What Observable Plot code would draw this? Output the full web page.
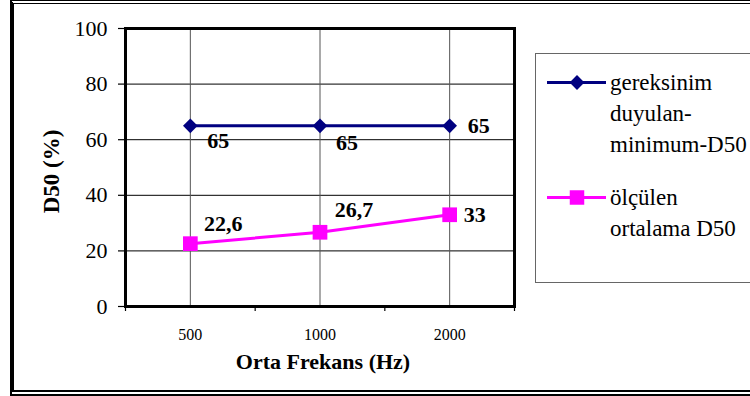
<!DOCTYPE html>
<html>
<head>
<meta charset="utf-8">
<script src="https://cdn.jsdelivr.net/npm/d3@7"></script>
<script src="https://cdn.jsdelivr.net/npm/@observablehq/plot@0.6"></script>
<style>
  html, body { margin: 0; padding: 0; background: #fff; }
  #wrap { position: relative; width: 750px; height: 396px; overflow: hidden; background: #fff;
          font-family: "Liberation Serif", "Times New Roman", serif; }
  #chart { position: absolute; left: 0; top: 0; }
  #outer { position: absolute; left: 10px; top: 0; width: 760px; height: 396px; box-sizing: border-box;
           border-left: 4px solid #000; border-top: 4px double #000; border-bottom: 6px double #000; pointer-events: none; }
  #legend { position: absolute; left: 535px; top: 53px; width: 230px; height: 230px; box-sizing: border-box;
            border: 1px solid #666; background: #fff; }
  .item { position: absolute; left: 0; }
  .item svg { position: absolute; left: 11px; }
  .item .lbl { position: absolute; left: 74px; font-family: "Liberation Serif", serif; font-size: 23px; line-height: 31px; white-space: nowrap; color: #000; }
  g[aria-label="y-title"] text { letter-spacing: 2px; }
</style>
</head>
<body>
<div id="wrap">
  <div id="chart"></div>
  <div id="legend"></div>
  <div id="outer"></div>
</div>
<script>
// ---- data ----
const categories = ["500", "1000", "2000"];
const requiredD50 = [65, 65, 65];
const measuredD50 = [22.6, 26.7, 33];
const yTicks = [0, 20, 40, 60, 80, 100];
const seriesNames = [["gereksinim", "duyulan-", "minimum-D50"], ["ölçülen", "ortalama D50"]];
const seriesColors = ["#000080", "#FF00FF"];
const xTitle = "Orta Frekans (Hz)";
const yTitle = "D50 (%)";

const data = categories.map((c, i) => ({ i, cat: c, x: i + 0.5, required: requiredD50[i], measured: measuredD50[i] }));
const fmt = v => String(v).replace(".", ",");

const labelStyle = { fontSize: 22, fontWeight: "bold", fill: "#000" };
const lbl = (i, key, dx, dy) => Plot.text(data, {
  filter: d => d.i === i, x: "x", y: key, text: d => fmt(d[key]), dx, dy, ...labelStyle
});

const chart = Plot.plot({
  width: 750, height: 396,
  marginLeft: 125, marginRight: 236, marginTop: 28, marginBottom: 90,
  style: { fontFamily: "'Liberation Serif', 'Times New Roman', serif", color: "#000", background: "transparent", overflow: "visible" },
  x: { type: "linear", domain: [0, categories.length] },
  y: { domain: [0, 100] },
  marks: [
    Plot.gridY(yTicks.slice(1, -1), { stroke: "#000", strokeOpacity: 1, strokeWidth: 1 }),
    Plot.gridX(categories.map((c, i) => i + 0.5), { stroke: "#555", strokeOpacity: 1, strokeWidth: 1 }),
    Plot.axisY(yTicks, { tickSize: 7, tickPadding: 11, fontSize: 22, label: null, strokeWidth: 1.2 }),
    Plot.axisX(d3.range(categories.length + 1), { tickSize: 5, tickFormat: () => "", label: null, strokeWidth: 1.2 }),
    Plot.axisX(categories.map((c, i) => i + 0.5), { tickSize: 0, tickPadding: 22, fontSize: 16, label: null,
      tickFormat: d => categories[Math.floor(d)] }),
    Plot.frame({ stroke: "#000", strokeWidth: 3 }),
    Plot.line(data, { x: "x", y: "required", stroke: seriesColors[0], strokeWidth: 3 }),
    Plot.line(data, { x: "x", y: "measured", stroke: seriesColors[1], strokeWidth: 3 }),
    Plot.dot(data, { x: "x", y: "required", symbol: "diamond2", r: 6.6, fill: seriesColors[0], stroke: "none" }),
    Plot.dot(data, { x: "x", y: "measured", symbol: "square", r: 8.3, fill: seriesColors[1], stroke: "none" }),
    lbl(0, "required", 28, 15),
    lbl(1, "required", 27, 17),
    lbl(2, "required", 29, 0),
    lbl(0, "measured", 33, -20),
    lbl(1, "measured", 34, -22),
    lbl(2, "measured", 25, 0),
    Plot.text([xTitle], { frameAnchor: "bottom", textAnchor: "middle", lineAnchor: "middle", dy: 55, dx: 3,
      fontSize: 22, fontWeight: "bold", fill: "#000" }),
    Plot.text([yTitle], { frameAnchor: "left", textAnchor: "middle", lineAnchor: "middle", rotate: -90, dx: -74, dy: 4,
      fontSize: 23, fontWeight: "bold", fill: "#000", ariaLabel: "y-title" })
  ]
});
document.getElementById("chart").appendChild(chart);

// ---- legend ----
const legend = d3.select("#legend");
const symbols = [d3.symbolDiamond2, d3.symbolSquare];
const symSizes = [140, 210];
const itemTops = [13, 128];
seriesNames.forEach((lines, k) => {
  const item = legend.append("div").attr("class", "item").style("top", itemTops[k] + "px");
  const svg = item.append("svg").attr("width", 62).attr("height", 31).style("top", "0px");
  svg.append("line").attr("x1", 0).attr("x2", 59).attr("y1", 15.5).attr("y2", 15.5)
    .attr("stroke", seriesColors[k]).attr("stroke-width", 3);
  svg.append("path").attr("d", d3.symbol(symbols[k], symSizes[k])())
    .attr("transform", "translate(30,15.5)").attr("fill", seriesColors[k]);
  item.append("div").attr("class", "lbl").style("top", "0px").html(lines.join("<br>"));
});
</script>
</body>
</html>
